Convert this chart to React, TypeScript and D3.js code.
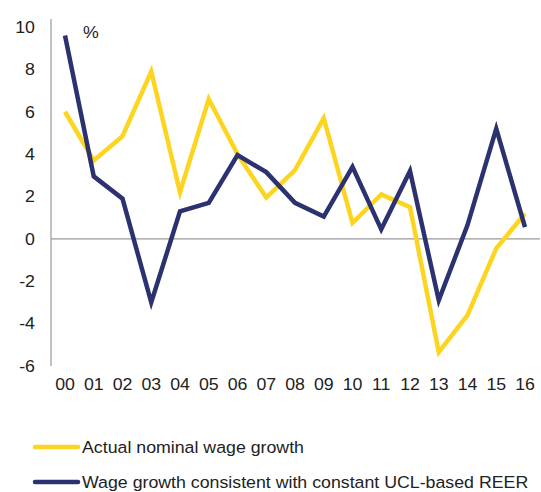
import React from "react";
import * as d3 from "d3";

const years = ["00","01","02","03","04","05","06","07","08","09","10","11","12","13","14","15","16"];
const actualWage = [6.0,3.7,4.85,7.9,2.2,6.6,4.0,1.95,3.25,5.7,0.75,2.1,1.5,-5.35,-3.6,-0.45,1.2];
const consistentWage = [9.6,2.95,1.9,-3.0,1.3,1.7,3.95,3.15,1.7,1.05,3.4,0.45,3.2,-2.9,0.65,5.2,0.55];
const yTicks = [10,8,6,4,2,0,-2,-4,-6];
const seriesNames = ["Actual nominal wage growth","Wage growth consistent with constant UCL-based REER"];
const colors = ["#FDD521","#2C326F"];

export default function App() {
  const W = 541, H = 492;
  const x = d3.scalePoint<string>().domain(years).range([65, 525]);
  const y = d3.scaleLinear().domain([-6, 10]).range([366, 27]);
  const line = d3.line<number>().x((_, i) => x(years[i]) as number).y(d => y(d));
  const font = "'Liberation Sans', Arial, sans-serif";
  const fs = 16.3;
  const sx = 1.09;
  const T = (tx: number, ty: number) => `translate(${tx},${ty}) scale(${sx},1)`;
  return (
    <svg width={W} height={H} style={{ position: "absolute", left: 0, top: 0 }} fontFamily={font}>
      <line x1={51} x2={51} y1={y(10) - 8} y2={y(-6)} stroke="#999" strokeWidth={1.2} />
      <line x1={51} x2={540} y1={y(0)} y2={y(0)} stroke="#999" strokeWidth={1.2} />
      {yTicks.map(t => (
        <text key={t} transform={T(35, y(t))} dy="0.36em" textAnchor="end" fontSize={fs} fill="#222">{t}</text>
      ))}
      {years.map(yr => (
        <text key={yr} transform={T(x(yr) as number, 390)} textAnchor="middle" fontSize={fs} fill="#222">{yr}</text>
      ))}
      <text transform={T(83, 38)} fontSize={fs} fill="#222">%</text>
      <path d={line(actualWage) || ""} fill="none" stroke={colors[0]} strokeWidth={4.5} strokeLinejoin="miter" />
      <path d={line(consistentWage) || ""} fill="none" stroke={colors[1]} strokeWidth={4.5} strokeLinejoin="miter" />
      {seriesNames.map((n, i) => (
        <g key={n}>
          <line x1={35} x2={78} y1={447 + i * 35} y2={447 + i * 35} stroke={colors[i]} strokeWidth={4.5} strokeLinecap="round" />
          <text transform={T(82, 447 + i * 35)} dy="0.36em" fontSize={fs} fill="#222">{n}</text>
        </g>
      ))}
    </svg>
  );
}
